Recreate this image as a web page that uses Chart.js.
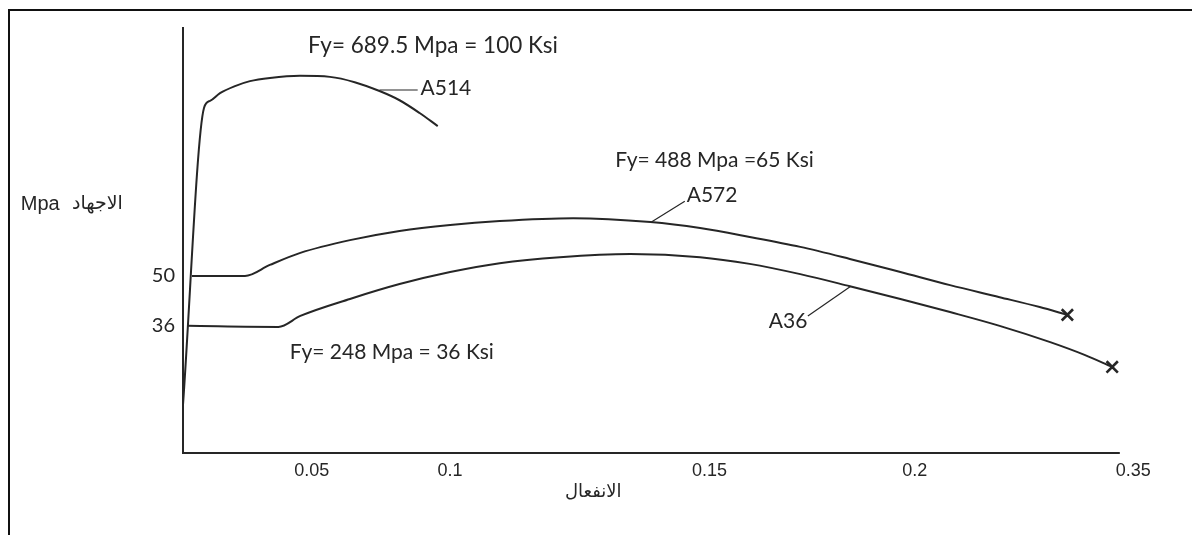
<!DOCTYPE html>
<html><head><meta charset="utf-8">
<script src="https://cdn.jsdelivr.net/npm/chart.js@4.4.1/dist/chart.umd.min.js"></script>
<style>
html,body{margin:0;padding:0;background:#fff;}
#wrap{position:relative;width:1192px;height:535px;overflow:hidden;background:#fff;}
#frame{position:absolute;left:8px;top:9px;width:1300px;height:600px;border-left:2px solid #111;border-top:2px solid #111;}
canvas{position:absolute;left:0;top:0;}
</style></head><body>
<div id="wrap"><div id="frame"></div><canvas id="c" width="1192" height="535"></canvas></div>
<script>
// ---- data (x = position along the strain axis, 0..100 drawing units; y = stress, ksi) ----
const xTickPositions = [13.5, 28.0, 55.2, 76.7, 99.6];
const xTickLabels = ['0.05', '0.1', '0.15', '0.2', '0.35'];
const yTickValues = [36, 50];
const yTickLabels = ['36', '50'];
const seriesNames = ['A514', 'A572', 'A36'];

const a514X = [0, 2.2, 2.83, 3.88, 5.45, 7.02, 9.12, 12.26, 15.4, 18.0, 20.6, 22.7, 24.8, 26.7];
const a514Y = [13.6, 97.4, 99.4, 101.6, 103.6, 105.0, 105.9, 106.5, 106.2, 104.7, 102.2, 99.6, 96.0, 92.3];

const a572X = [0.94, 6.5, 9.1, 12.3, 17.5, 22.7, 28.0, 33.2, 40.9, 49.0, 54.2, 59.4, 64.7, 69.9, 75.2, 80.4, 85.6, 89.8, 92.7];
const a572Y = [50.0, 50.0, 53.1, 56.5, 60.1, 62.7, 64.4, 65.5, 66.3, 65.2, 63.5, 61.0, 58.2, 54.8, 51.1, 47.4, 44.0, 41.2, 39.0];

const a36X = [0.5, 10.0, 12.3, 17.5, 22.7, 28.0, 33.2, 39.5, 46.9, 54.2, 59.4, 64.7, 69.9, 75.2, 80.4, 85.6, 90.9, 94.5, 97.4];
const a36Y = [35.9, 35.6, 38.7, 43.5, 47.7, 51.1, 53.6, 55.3, 56.2, 55.3, 53.4, 50.5, 47.1, 43.5, 39.8, 35.9, 31.3, 27.7, 24.3];

const noteTexts = ['Fy= 689.5 Mpa = 100 Ksi', 'A514', 'Fy= 488 Mpa =65 Ksi', 'A572', 'A36', 'Fy= 248 Mpa = 36 Ksi'];
const yTitleParts = ['Mpa', 'الاجهاد'];
const xTitle = 'الانفعال';

// ---- layout (positions in axis units, styles) ----
const notePos = [
  {x: 13.1, y: 114.9, font: '22.5px Lato'}, {x: 24.9, y: 103.0, font: '21px Lato'}, {x: 45.3, y: 82.7, font: '21px Lato'},
  {x: 52.8, y: 72.8, font: '21px Lato'}, {x: 61.4, y: 37.3, font: '21px Lato'}, {x: 11.2, y: 28.5, font: '21px Lato'}
];
const leaderPos = [
  [[20.6, 102.5], [24.6, 102.5]],
  [[49.1, 65.2], [52.6, 71.1]],
  [[65.5, 38.7], [70.0, 47.1]]
];
const yTitlePos = [{x: -17.0, y: 70.3, font: '20px "Liberation Sans"'}, {x: -11.64, y: 70.3, font: '19px "DejaVu Sans"'}];
const xTitlePos = {x: 43.0, y: -11.0, font: '18px "DejaVu Sans"'};
const xAxisEnd = 98.2;
const ink = '#262626';

const toPts = (xs, ys) => xs.map((v, i) => ({x: v, y: ys[i]}));
const lastOnly = r => (ctx) => ctx.dataIndex === ctx.dataset.data.length - 1 ? r : 0;

const notesPlugin = {
  id: 'notes',
  afterDraw(chart) {
    const {ctx, scales: {x, y}} = chart;
    ctx.save();
    ctx.strokeStyle = ink; ctx.fillStyle = ink;
    ctx.lineWidth = 2;
    ctx.beginPath();
    ctx.moveTo(x.getPixelForValue(0), y.getPixelForValue(0));
    ctx.lineTo(x.getPixelForValue(xAxisEnd), y.getPixelForValue(0));
    ctx.stroke();
    ctx.lineWidth = 1.2;
    leaderPos.forEach(l => {
      ctx.beginPath();
      ctx.moveTo(x.getPixelForValue(l[0][0]), y.getPixelForValue(l[0][1]));
      ctx.lineTo(x.getPixelForValue(l[1][0]), y.getPixelForValue(l[1][1]));
      ctx.stroke();
    });
    ctx.textBaseline = 'middle';
    ctx.textAlign = 'left';
    noteTexts.forEach((t, i) => {
      ctx.font = notePos[i].font;
      ctx.fillText(t, x.getPixelForValue(notePos[i].x), y.getPixelForValue(notePos[i].y));
    });
    yTitleParts.forEach((t, i) => {
      ctx.font = yTitlePos[i].font;
      ctx.fillText(t, x.getPixelForValue(yTitlePos[i].x), y.getPixelForValue(yTitlePos[i].y));
    });
    ctx.textAlign = 'center';
    ctx.font = xTitlePos.font;
    ctx.fillText(xTitle, x.getPixelForValue(xTitlePos.x), y.getPixelForValue(xTitlePos.y));
    ctx.restore();
  }
};

const mk = (name, xs, ys, markR) => ({
  label: name,
  data: toPts(xs, ys),
  borderColor: ink,
  borderWidth: 2,
  showLine: true,
  fill: false,
  cubicInterpolationMode: 'monotone',
  pointStyle: 'crossRot',
  pointRadius: lastOnly(markR),
  pointHoverRadius: 0,
  pointBorderColor: ink,
  pointBorderWidth: 2.6
});

new Chart(document.getElementById('c'), {
  type: 'scatter',
  data: {
    datasets: [
      mk(seriesNames[0], a514X, a514Y, 0),
      mk(seriesNames[1], a572X, a572Y, 8),
      mk(seriesNames[2], a36X, a36Y, 8)
    ]
  },
  options: {
    responsive: false,
    animation: false,
    devicePixelRatio: 1,
    layout: {padding: {left: 0, right: 55, top: 28, bottom: 0}},
    plugins: {legend: {display: false}, tooltip: {enabled: false}},
    scales: {
      x: {
        type: 'linear', min: 0, max: 100,
        afterBuildTicks: s => { s.ticks = xTickPositions.map(v => ({value: v})); },
        afterFit: s => { s.height = 82; },
        ticks: {
          autoSkip: false, maxRotation: 0, padding: 7, color: ink,
          font: {family: '"Liberation Sans"', size: 18},
          callback: (v, i) => xTickLabels[i]
        },
        grid: {display: false, drawTicks: false},
        border: {display: false}
      },
      y: {
        min: 0, max: 120,
        afterBuildTicks: s => { s.ticks = yTickValues.map(v => ({value: v})); },
        afterFit: s => { s.width = 183; },
        ticks: {
          autoSkip: false, padding: 8, color: ink,
          font: {family: 'Lato', size: 20},
          callback: (v, i) => yTickLabels[i]
        },
        grid: {display: false, drawTicks: false},
        border: {display: true, color: ink, width: 2}
      }
    }
  },
  plugins: [notesPlugin]
});
</script>
</body></html>
